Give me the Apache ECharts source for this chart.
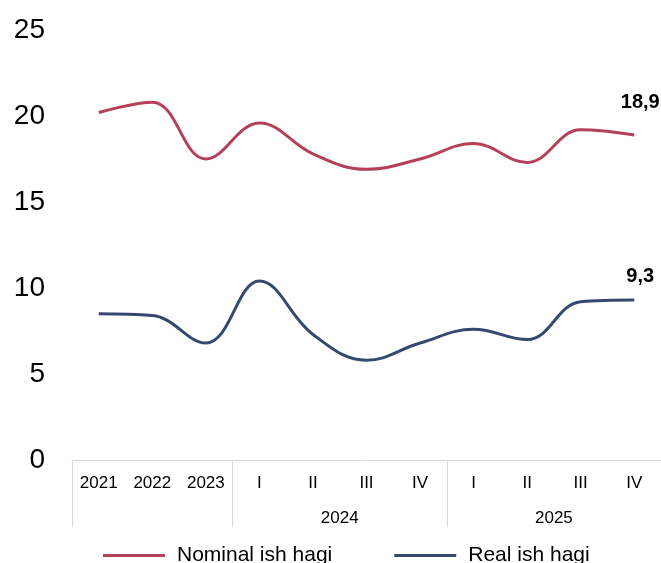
<!DOCTYPE html>
<html>
<head>
<meta charset="utf-8">
<script src="https://cdn.jsdelivr.net/npm/echarts@6/dist/echarts.min.js"></script>
<style>
  html, body { margin: 0; padding: 0; background: #fff; }
  #chart { width: 661px; height: 563px; }
</style>
</head>
<body>
<!-- chart container -->
<div id="chart"></div>
<script>
var categories = ['2021', '2022', '2023', 'I', 'II', 'III', 'IV', 'I', 'II', 'III', 'IV']
var nominal = [20.2, 20.8, 17.5, 19.6, 17.8, 16.9, 17.5, 18.4, 17.3, 19.2, 18.9]
var real = [8.5, 8.4, 6.8, 10.4, 7.3, 5.8, 6.8, 7.6, 7.0, 9.2, 9.3]
var groupLabels = ['2024', '2025']
var groupStarts = [3, 7]
var groupEnds = [7, 11]
var yTicks = [0, 5, 10, 15, 20, 25]

var font = 'Liberation Sans, Arial, sans-serif'
var lastIdx = categories.length - 1

function fmt(v) {
  return String(v).replace('.', ',')
}

var chart = echarts.init(document.getElementById('chart'))

var option = {
  animation: false,
  textStyle: { fontFamily: font },
  grid: { left: 72, width: 589, top: 30, bottom: 103, containLabel: false, outerBoundsMode: 'none' },
  legend: {
    left: 98,
    top: 540,
    icon: 'rect',
    itemWidth: 62,
    itemHeight: 3,
    itemGap: 62,
    textStyle: { fontSize: 21, color: '#000', fontFamily: font, padding: [0, 0, 0, 7] },
    data: ['Nominal ish hagi', 'Real ish hagi']
  },
  xAxis: [
    {
      type: 'category',
      data: categories,
      boundaryGap: true,
      axisLine: { lineStyle: { color: '#d9d9d9', width: 1 } },
      axisTick: {
        show: true,
        length: 67,
        lineStyle: { color: '#d9d9d9', width: 1 },
        interval: function (index) {
          return index === 0 || groupStarts.indexOf(index) >= 0
        }
      },
      axisLabel: { fontSize: 17, color: '#000', margin: 15, interval: 0 }
    },
    {
      // group labels for the quarters
      type: 'value',
      position: 'bottom',
      min: 0,
      max: categories.length,
      interval: 1,
      axisLine: { show: false },
      axisTick: { show: false },
      splitLine: { show: false },
      axisLabel: {
        fontSize: 17,
        color: '#000',
        margin: 50,
        formatter: function (v) {
          for (var i = 0; i < groupLabels.length; i++) {
            if (v === (groupStarts[i] + groupEnds[i]) / 2) return groupLabels[i]
          }
          return ''
        }
      }
    }
  ],
  yAxis: {
    type: 'value',
    min: yTicks[0],
    max: yTicks[yTicks.length - 1],
    interval: 5,
    axisLine: { show: false },
    axisTick: { show: false },
    splitLine: { show: false },
    axisLabel: { fontSize: 28, color: '#000', margin: 27, padding: [8, 0, 0, 0] }
  },
  series: [
    {
      name: 'Nominal ish hagi',
      type: 'line',
      data: nominal,
      smooth: 0.4,
      showSymbol: true,
      symbolSize: 0,
      itemStyle: { color: '#b4405a' },
      lineStyle: { color: '#b4405a', width: 3 },
      label: {
        show: true,
        position: 'top',
        distance: 24,
        offset: [6, 2],
        fontSize: 20,
        fontWeight: 'bold',
        color: '#000',
        formatter: function (p) {
          return p.dataIndex === lastIdx ? fmt(p.value) : ''
        }
      }
    },
    {
      name: 'Real ish hagi',
      type: 'line',
      data: real,
      smooth: 0.4,
      showSymbol: true,
      symbolSize: 0,
      itemStyle: { color: '#34496f' },
      lineStyle: { color: '#34496f', width: 3 },
      label: {
        show: true,
        position: 'top',
        distance: 17,
        offset: [6, 3],
        fontSize: 20,
        fontWeight: 'bold',
        color: '#000',
        formatter: function (p) {
          return p.dataIndex === lastIdx ? fmt(p.value) : ''
        }
      }
    }
  ]
}

chart.setOption(option)
</script>
</body>
</html>
